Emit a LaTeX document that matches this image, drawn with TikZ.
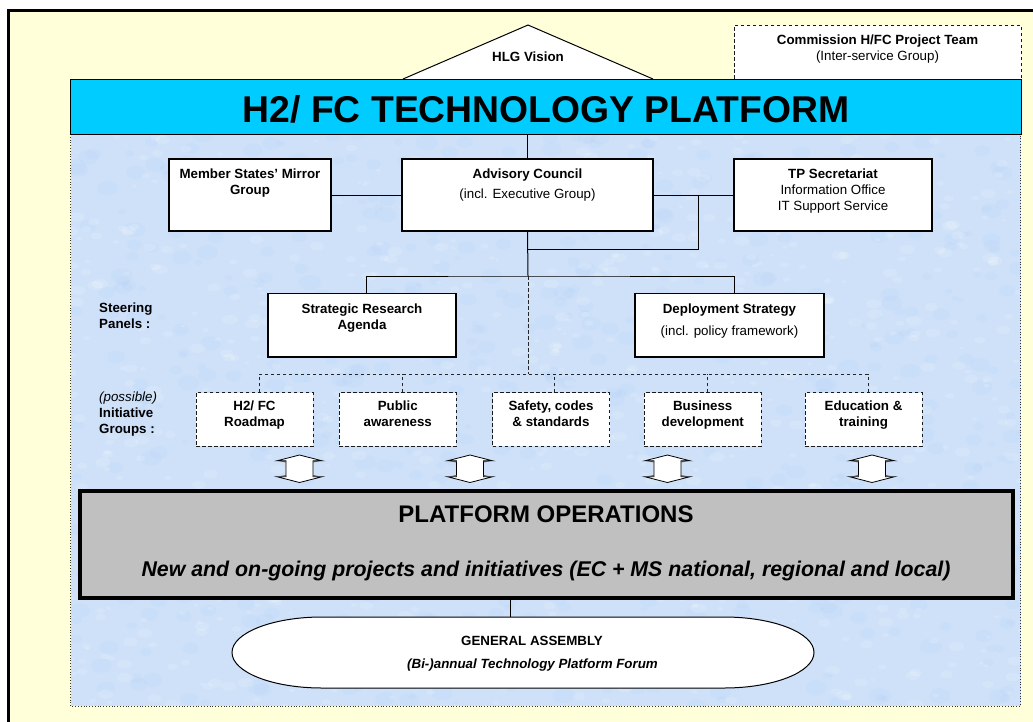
\documentclass[tikz,border=0pt]{standalone}
\usepackage{fontspec}
\setmainfont{Liberation Sans}
\definecolor{paper}{RGB}{255,255,217}
\definecolor{panel}{RGB}{206,225,249}
\definecolor{panelshade}{RGB}{175,204,242}
\definecolor{barcyan}{RGB}{0,204,255}
\definecolor{opsgray}{RGB}{192,192,192}
\tikzset{
  wire/.style={line width=1pt, black},
  dwire/.style={line width=0.9pt, black!85, dash pattern=on 3.5pt off 2.5pt},
  boxnode/.style={draw=black, line width=1.2pt, fill=white, inner sep=0pt},
  dashnode/.style={draw=black!90, line width=0.9pt, dash pattern=on 3.5pt off 2.5pt, fill=white, inner sep=0pt},
  lbl/.style={inner sep=0pt, anchor=base, font=\fontsize{13.33}{16}\selectfont},
  blbl/.style={inner sep=0pt, anchor=base, font=\fontsize{13.33}{16}\selectfont\bfseries},
  ilbl/.style={inner sep=0pt, anchor=base, font=\fontsize{13.33}{16}\selectfont\itshape},
  bilbl/.style={inner sep=0pt, anchor=base, font=\fontsize{13.33}{16}\selectfont\bfseries\itshape},
  leftlbl/.style={anchor=base west},
  updown/.pic={
    \draw[fill=white, line width=0.8pt]
      (0,-13.75) -- (22.5,-8) -- (13.5,-8) -- (13.5,8) -- (22.5,8) -- (0,13.75)
      -- (-22.5,8) -- (-13.5,8) -- (-13.5,-8) -- (-22.5,-8) -- cycle;
    \fill[black!70] (-22.5,-8) -- (-13.5,-8) -- (-13.5,-6.3) -- cycle;
    \fill[black!70] (22.5,-8) -- (13.5,-8) -- (13.5,-6.3) -- cycle;
    \fill[black!70] (-22.5,8) -- (-13.5,8) -- (-13.5,6.3) -- cycle;
    \fill[black!70] (22.5,8) -- (13.5,8) -- (13.5,6.3) -- cycle;
  }
}
\begin{document}
\begin{tikzpicture}[x=1pt,y=-1pt]
\useasboundingbox (0,0) rectangle (1033,721);
\clip (0,0) rectangle (1033,721);
\fill[white] (0,0) rectangle (1033,721);

% outer frame
\draw[line width=2.5pt, fill=paper] (8.7,10.7) rectangle (1045,735);

% textured panel
\fill[panel] (70.5,134) rectangle (1020.5,706);
\begin{scope}
  \clip (70.5,134) rectangle (1020.5,706);
  \pgfmathsetseed{42}
  \foreach \i in {1,...,700}{
    \pgfmathsetmacro{\px}{70+951*rnd}
    \pgfmathsetmacro{\py}{134+572*rnd}
    \pgfmathsetmacro{\pr}{3+8*rnd}
    \fill[panelshade, opacity=0.14] (\px,\py) ellipse [x radius=\pr pt, y radius=0.7*\pr pt];
  }
  \foreach \i in {1,...,900}{
    \pgfmathsetmacro{\px}{70+951*rnd}
    \pgfmathsetmacro{\py}{134+572*rnd}
    \pgfmathsetmacro{\pr}{2+6*rnd}
    \fill[white, opacity=0.16] (\px,\py) ellipse [x radius=\pr pt, y radius=0.6*\pr pt];
  }
\end{scope}
\draw[black!80, line width=0.8pt, dotted] (70.5,134) rectangle (1020.5,706);

% vision triangle and project team
\draw[fill=white, line width=1pt] (403,79) -- (528,25) -- (653,79);
\node[blbl] (hlg) at (528,61) {HLG Vision};
\node[dashnode, minimum width=287pt, minimum height=54pt] (cpt) at (877.5,52) {};
\node[blbl] (cpt-a) at (877.5,44.5) {Commission H/FC Project Team};
\node[lbl] (cpt-b) at (877.5,60.5) {(Inter-service Group)};

% platform title bar
\node[draw=black, line width=0.8pt, fill=barcyan, minimum width=950.5pt, minimum height=55pt, inner sep=0pt] (bar) at (545.75,106.5) {};
\node[inner sep=0pt, anchor=base, font=\fontsize{37.3}{40}\selectfont\bfseries] (title) at (546,122) {H2/ FC TECHNOLOGY PLATFORM};

% governance boxes
\node[boxnode, minimum width=162pt, minimum height=72pt] (ms) at (250,195) {};
\node[boxnode, minimum width=251pt, minimum height=72pt] (ac) at (527.5,195) {};
\node[boxnode, minimum width=198pt, minimum height=72pt] (tp) at (833,195) {};
\node[boxnode, minimum width=188pt, minimum height=63.5pt] (sra) at (362,325.25) {};
\node[boxnode, minimum width=189pt, minimum height=63.5pt] (ds) at (729.5,325.25) {};

% initiative groups
\foreach \nm/\cx in {rm/254.5, pa/397.8, sc/551, bd/702.75, et/863.5}{
  \node[dashnode, minimum width=117pt, minimum height=53.3pt] (\nm) at (\cx,419.35) {};
}

% operations and assembly
\node[draw=black, line width=4pt, fill=opsgray, minimum width=933pt, minimum height=107pt, inner sep=0pt] (ops) at (546.5,544.5) {};
\draw[fill=white, line width=1pt]
  (322,617) -- (724,617) .. controls (773.7,617) and (814,632.9) .. (814,652.5)
  .. controls (814,672.1) and (773.7,688) .. (724,688) -- (322,688)
  .. controls (272.3,688) and (232,672.1) .. (232,652.5)
  .. controls (232,632.9) and (272.3,617) .. (322,617) -- cycle;
\coordinate (gatop) at (510,617);

% connectors
\coordinate (tpj) at (698.5,195);
\coordinate (acj) at (528,249);
\coordinate (sbus) at (528,276);
\coordinate (ibus) at (528,374);
\draw[wire] (ac.north) -- (ac.north |- bar.south);
\draw[wire] (ms.east) -- (ac.west);
\draw[wire] (ac.east) -- (tp.west);
\draw[wire] (tpj) |- (acj);
\draw[wire] (ac.south) -- (sbus);
\draw[wire] ([xshift=4pt]sra.north) |- (sbus) -| ([xshift=4.5pt]ds.north);
\draw[dwire] (sbus) -- (ibus);
\draw[dwire] ([xshift=4.5pt]rm.north) |- (ibus) -| ([xshift=4.5pt]et.north);
\foreach \nm/\dx in {pa/4.7, sc/3, bd/4.25}{
  \draw[dwire] ([xshift=\dx pt]\nm.north) -- ([xshift=\dx pt]\nm.north |- ibus);
}
\draw[wire] (gatop) -- (gatop |- ops.south);

% exchange arrows
\pic (x1) at (299.5,468.75) {updown};
\pic (x2) at (470,468.75) {updown};
\pic (x3) at (667.4,468.75) {updown};
\pic (x4) at (872,468.75) {updown};

% box texts
\node[blbl] (ms-a) at (250,178) {Member States’ Mirror};
\node[blbl] (ms-b) at (250,194) {Group};
\node[blbl] (ac-a) at (527.5,178) {Advisory Council};
\node[lbl] (ac-b) at (527.5,198.5) {(incl. Executive Group)};
\node[blbl] (tp-a) at (833,178) {TP Secretariat};
\node[lbl] (tp-b) at (833,194) {Information Office};
\node[lbl] (tp-c) at (833,210) {IT Support Service};
\node[blbl] (sra-a) at (362,313.3) {Strategic Research};
\node[blbl] (sra-b) at (362,329.3) {Agenda};
\node[blbl] (ds-a) at (729.5,313.3) {Deployment Strategy};
\node[lbl] (ds-b) at (729.5,335) {(incl. policy framework)};

\node[blbl, leftlbl] (sp-a) at (99,312.3) {Steering};
\node[blbl, leftlbl] (sp-b) at (99,328.3) {Panels :};
\node[ilbl, leftlbl] (ig-a) at (99,401.7) {(possible)};
\node[blbl, leftlbl] (ig-b) at (99,417.7) {Initiative};
\node[blbl, leftlbl] (ig-c) at (99,433.3) {Groups :};

\node[blbl] (rm-a) at (254.5,410.7) {H2/ FC};
\node[blbl] (rm-b) at (254.5,426.7) {Roadmap};
\node[blbl] (pa-a) at (397.8,410.7) {Public};
\node[blbl] (pa-b) at (397.8,426.7) {awareness};
\node[blbl] (sc-a) at (551,410.7) {Safety, codes};
\node[blbl] (sc-b) at (551,426.7) {\& standards};
\node[blbl] (bd-a) at (702.75,410.7) {Business};
\node[blbl] (bd-b) at (702.75,426.7) {development};
\node[blbl] (et-a) at (863.5,410.7) {Education \&};
\node[blbl] (et-b) at (863.5,426.7) {training};

\node[inner sep=0pt, anchor=base, font=\fontsize{24}{28}\selectfont\bfseries] (ops-a) at (546,522.7) {PLATFORM OPERATIONS};
\node[inner sep=0pt, anchor=base, font=\fontsize{21.33}{25}\selectfont\bfseries\itshape] (ops-b) at (546,576.7) {New and on-going projects and initiatives (EC + MS national, regional and local)};

\node[blbl] (ga-a) at (532,645) {GENERAL ASSEMBLY};
\node[bilbl] (ga-b) at (532.5,668) {(Bi-)annual Technology Platform Forum};
\end{tikzpicture}
\end{document}
